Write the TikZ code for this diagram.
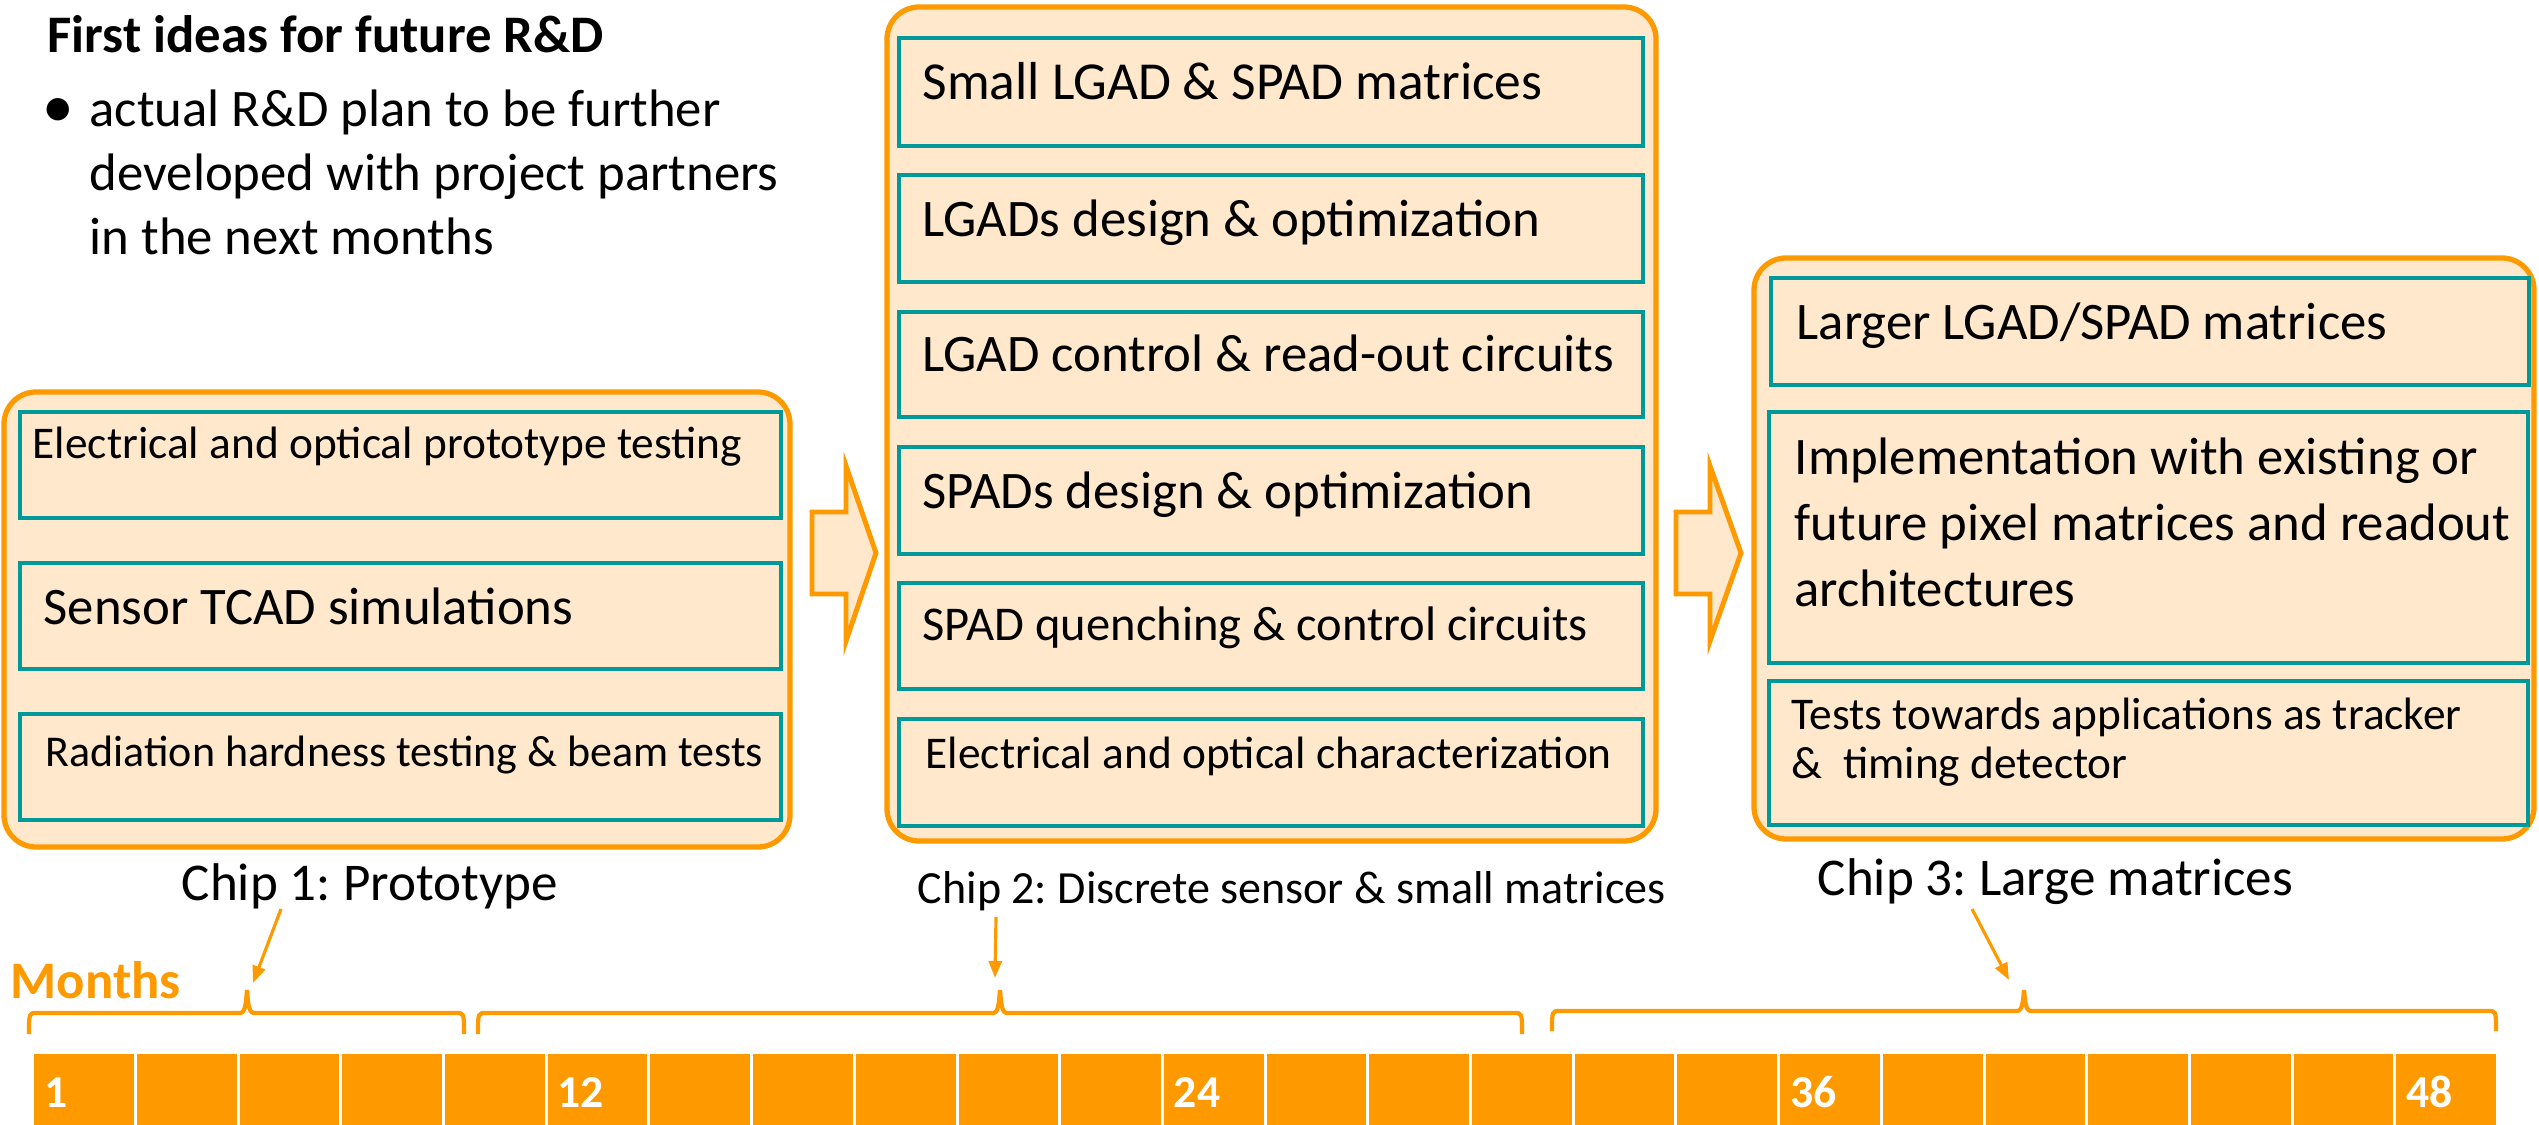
\documentclass[tikz,border=0pt]{standalone}
\usepackage{fontspec}
\setmainfont{Carlito}
\usetikzlibrary{calc,arrows.meta}
\definecolor{orng}{RGB}{255,153,0}
\definecolor{peach}{RGB}{255,232,204}
\definecolor{tealb}{RGB}{0,153,153}
\frenchspacing
\begin{document}
\begin{tikzpicture}[x=0.01cm,y=-0.01cm,
  outerbox/.style={draw=orng, fill=peach, line width=1.5pt, rounded corners=0.32cm},
  innerbox/.style={draw=tealb, fill=peach, line width=1.4pt},
  big/.style={inner sep=0pt, anchor=base west, font=\fontsize{15}{18}\selectfont},
  small/.style={inner sep=0pt, anchor=base west, font=\fontsize{12.9}{15}\selectfont},
  blockarrow/.style={draw=orng, fill=peach, line width=1.4pt, line join=miter},
  brace/.style={draw=orng, line width=1.2pt},
  pointer/.style={draw=orng, line width=0.9pt, -{Triangle[length=0.17cm,width=0.13cm]}},
  cell/.style={fill=orng, draw=none, inner sep=0pt, minimum width=0.997cm, minimum height=0.72cm, anchor=north west},
  num/.style={inner sep=0pt, anchor=base west, text=white, font=\bfseries\fontsize{13}{15}\selectfont},
]
\useasboundingbox (0,0) rectangle (2539,1125);

% title and bullet text
\node[big, font=\bfseries\fontsize{15}{18}\selectfont] (title) at (47,53) {First ideas for future R\&D};
\node[inner sep=0pt, anchor=center, font=\fontsize{18}{18}\selectfont] (bul) at (58,113) {\textbullet};
\node[big] (l1) at (89,127) {actual R\&D plan to be further};
\node[big] (l2) at (89,191) {developed with project partners};
\node[big] (l3) at (89,255) {in the next months};

% chip 1
\path[outerbox] (4,392) rectangle (790,847);
\path[innerbox] (20,412) rectangle (781,518);
\path[innerbox] (20,563) rectangle (781,669);
\path[innerbox] (20,714) rectangle (781,820);
\node[small] (t1a) at (32,459) {Electrical and optical prototype testing};
\node[big] (t1b) at (43,625) {Sensor TCAD simulations};
\node[small, font=\fontsize{12.5}{15}\selectfont] (t1c) at (45,767) {Radiation hardness testing \& beam tests};
\node[big, font=\fontsize{15.1}{18}\selectfont] (chip1) at (181,900) {Chip 1: Prototype};

% chip 2
\path[outerbox] (887,7) rectangle (1656,841);
\path[innerbox] (899,38) rectangle (1643,146);
\path[innerbox] (899,175) rectangle (1643,282);
\path[innerbox] (899,312) rectangle (1643,417);
\path[innerbox] (899,447) rectangle (1643,554);
\path[innerbox] (899,583) rectangle (1643,689);
\path[innerbox] (899,719) rectangle (1643,826);
\node[big, font=\fontsize{15.2}{18}\selectfont] (t2a) at (922,100) {Small LGAD \& SPAD matrices};
\node[big] (t2b) at (922,237) {LGADs design \& optimization};
\node[big] (t2c) at (922,372) {LGAD control \& read-out circuits};
\node[big] (t2d) at (922,509) {SPADs design \& optimization};
\node[small, font=\fontsize{13.8}{16}\selectfont] (t2e) at (922,641) {SPAD quenching \& control circuits};
\node[small] (t2f) at (925,769) {Electrical and optical characterization};
\node[small, font=\fontsize{13.1}{15}\selectfont] (chip2) at (917,903) {Chip 2: Discrete sensor \& small matrices};

% chip 3
\path[outerbox] (1754,258) rectangle (2534,839);
\path[innerbox] (1771,278) rectangle (2529,385);
\path[innerbox] (1769,412) rectangle (2528,663);
\path[innerbox] (1769,681) rectangle (2528,825);
\node[big] (t3a) at (1796,340) {Larger LGAD/SPAD matrices};
\node[big] (t3b1) at (1794,475) {Implementation with existing or};
\node[big] (t3b2) at (1794,541) {future pixel matrices and readout};
\node[big] (t3b3) at (1794,607) {architectures};
\node[small] (t3c1) at (1791,730) {Tests towards applications as tracker};
\node[small] (t3c2) at (1791,778) {\& \ timing detector};
\node[big, font=\fontsize{15.1}{18}\selectfont] (chip3) at (1817,895) {Chip 3: Large matrices};

% block arrows
\path[blockarrow] (812,512) -- (846,512) -- (846,466) -- (876,553) -- (846,641) -- (846,594) -- (812,594) -- cycle;
\path[blockarrow] (1676,512) -- (1710,512) -- (1710,466) -- (1741,553) -- (1710,641) -- (1710,594) -- (1676,594) -- cycle;

% months label
\node[inner sep=0pt, anchor=base west, text=orng, font=\bfseries\fontsize{15}{18}\selectfont] (months) at (10,998) {Months};

% braces
\draw[brace] (29,1034) .. controls (29,1013) .. (37,1013) -- (240,1013) .. controls (246,1013) and (246,1000) .. (247,990) .. controls (248,1000) and (248,1013) .. (254,1013) -- (456,1013) .. controls (464,1013) .. (464,1034);
\draw[brace] (478,1034) .. controls (478,1013) .. (486,1013) -- (993,1013) .. controls (999,1013) and (999,1000) .. (1000,990) .. controls (1001,1000) and (1001,1013) .. (1007,1013) -- (1514,1013) .. controls (1522,1013) .. (1522,1034);
\draw[brace] (1552,1031) .. controls (1552,1011) .. (1560,1011) -- (2017,1011) .. controls (2023,1011) and (2023,999) .. (2024,990) .. controls (2025,999) and (2025,1011) .. (2031,1011) -- (2488,1011) .. controls (2496,1011) .. (2496,1031);

% pointers
\coordinate (a1s) at (281,909); \coordinate (a1e) at (253,983);
\coordinate (a2s) at (996,917); \coordinate (a2e) at (995,978);
\coordinate (a3s) at (1972,909); \coordinate (a3e) at (2009,980);
\draw[pointer] (a1s) -- (a1e);
\draw[pointer] (a2s) -- (a2e);
\draw[pointer] (a3s) -- (a3e);

% timeline
\foreach \i in {0,...,23} {
  \node[cell] (c\i) at ({32+\i*102.7+1.5},1053) {};
}
\node[num] (n1) at ($(c0.north west)+(10,54)$) {1};
\node[num] (n12) at ($(c5.north west)+(10,54)$) {12};
\node[num] (n24) at ($(c11.north west)+(10,54)$) {24};
\node[num] (n36) at ($(c17.north west)+(10,54)$) {36};
\node[num] (n48) at ($(c23.north west)+(10,54)$) {48};
\end{tikzpicture}
\end{document}
